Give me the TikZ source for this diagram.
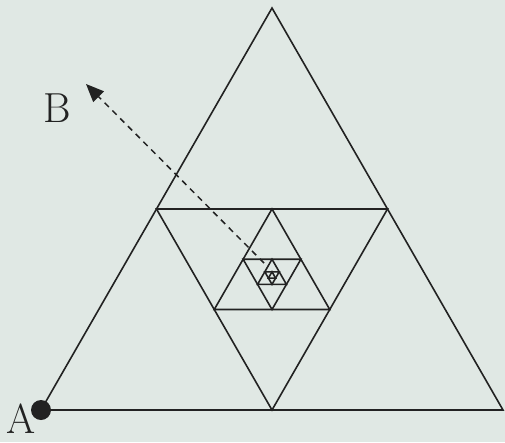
\documentclass[tikz,border=0pt]{standalone}
\usetikzlibrary{arrows.meta}
\definecolor{bgc}{HTML}{E0E8E4}
\definecolor{ink}{HTML}{222222}
\begin{document}
\begin{tikzpicture}[x=1pt,y=-1pt,
  tri/.style={draw=ink,line width=1.6pt,line join=miter},
  lab/.style={font=\fontsize{42}{42}\selectfont,text=ink,inner sep=0pt}]
\fill[bgc] (0,0) rectangle (505,442);
\useasboundingbox (0,0) rectangle (505,442);
\foreach \k in {0,...,6}{
  \pgfmathsetmacro\s{0.5^\k*(1-2*mod(\k,2))}
  \draw[tri,shift={(272,276)},scale=\s] (-231,134) -- (231,134) -- (0,-268) -- cycle;
}
\coordinate (A) at (41,410);
\coordinate (G) at (264,263);
\coordinate (Btip) at (86,84);
\fill[ink] (A) circle (10);
\node[lab] (Alab) at (21,419) {A};
\node[lab] (Blab) at (57,108) {B};
\draw[ink,line width=1.5pt,dash pattern=on 6pt off 5pt,-{Triangle[length=18pt,width=15pt]}] (G) -- (Btip);
\end{tikzpicture}
\end{document}
